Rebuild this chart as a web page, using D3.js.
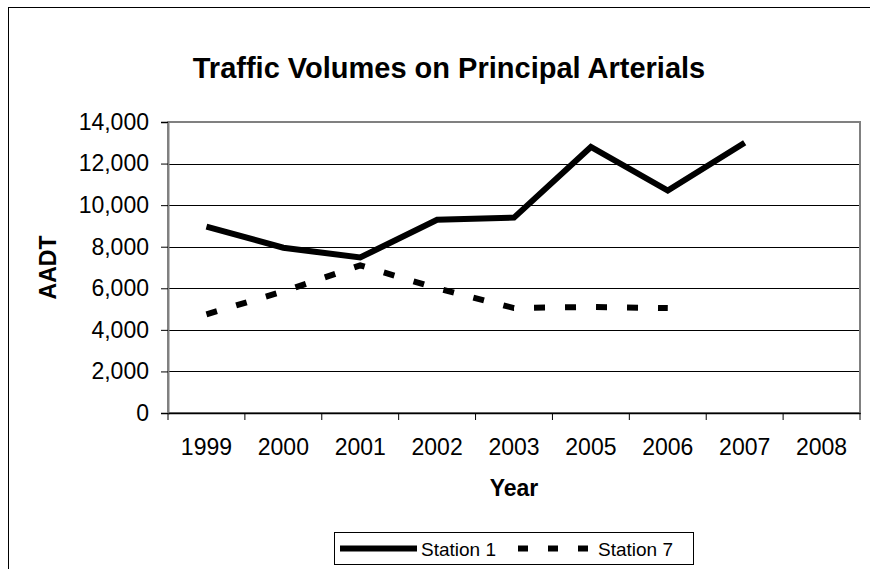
<!DOCTYPE html>
<html>
<head>
<meta charset="utf-8">
<script src="https://cdn.jsdelivr.net/npm/d3@7"></script>
<style>
  body { margin: 0; background: #fff; }
  text { font-family: "Liberation Sans", Arial, sans-serif; fill: #000; }
</style>
</head>
<body>
<div id="chart"></div>
<script>
// datos
const years = ["1999", "2000", "2001", "2002", "2003", "2005", "2006", "2007", "2008"];
const station1 = [8970, 7950, 7480, 9300, 9400, 12800, 10700, 13000, null];
const station7 = [4750, 5850, 7100, 6000, 5050, 5100, 5050, null, null];
const yTicks = [0, 2000, 4000, 6000, 8000, 10000, 12000, 14000];

const WIDTH = 870;
const HEIGHT = 569;
const MARGIN = { top: 122, bottom: 156, left: 168, right: 10 };
const WIDTHVIS = WIDTH - MARGIN.left - MARGIN.right;
const HEIGHTVIS = HEIGHT - MARGIN.top - MARGIN.bottom;

const svg = d3.select("#chart").append("svg")
  .attr("width", WIDTH).attr("height", HEIGHT);

// marco exterior (se sale por derecha y abajo)
svg.append("rect")
  .attr("x", 8.5).attr("y", 7.5)
  .attr("width", WIDTH).attr("height", HEIGHT)
  .attr("fill", "none").attr("stroke", "#000").attr("stroke-width", 1);

svg.append("text")
  .attr("x", 449).attr("y", 78)
  .attr("text-anchor", "middle")
  .style("font-size", "29px").style("font-weight", "bold")
  .text("Traffic Volumes on Principal Arterials");

const g = svg.append("g").attr("transform", `translate(${MARGIN.left},${MARGIN.top})`);

const x = d3.scaleBand().domain(years).range([0, WIDTHVIS]);
const y = d3.scaleLinear().domain([0, 14000]).range([HEIGHTVIS, 0]);

// grilla
g.append("g").selectAll("line")
  .data(yTicks.filter(d => d > 0 && d < 14000))
  .join("line")
  .attr("x1", 0).attr("x2", WIDTHVIS)
  .attr("y1", d => Math.round(y(d)) + 0.5).attr("y2", d => Math.round(y(d)) + 0.5)
  .attr("stroke", "#000").attr("stroke-width", 1);

// borde del area
g.append("rect")
  .attr("x", 0).attr("y", 0).attr("width", WIDTHVIS).attr("height", HEIGHTVIS)
  .attr("fill", "none").attr("stroke", "#808080").attr("stroke-width", 2);

// eje Y
const ejeY = d3.axisLeft(y).tickValues(yTicks).tickSize(7).tickPadding(12)
  .tickFormat(d3.format(","));
g.append("g").call(ejeY)
  .call(s => s.select(".domain").attr("stroke", "#808080").attr("stroke-width", 2))
  .call(s => s.selectAll(".tick text").style("font-size", "23px").attr("fill", "#000"));

// eje X
const ejeX = d3.axisBottom(x).tickSize(0).tickPadding(26);
g.append("g").attr("transform", `translate(0,${HEIGHTVIS})`).call(ejeX)
  .call(s => s.select(".domain").attr("stroke", "#000").attr("stroke-width", 1.5))
  .call(s => s.selectAll(".tick text").style("font-size", "23px").attr("fill", "#000"));

// ticks en los bordes de categorias
g.append("g").selectAll("line")
  .data(d3.range(years.length + 1))
  .join("line")
  .attr("x1", i => i * x.step()).attr("x2", i => i * x.step())
  .attr("y1", HEIGHTVIS).attr("y2", HEIGHTVIS + 7)
  .attr("stroke", "#000").attr("stroke-width", 1);

// titulos de ejes
svg.append("text")
  .attr("transform", `translate(48,${MARGIN.top + HEIGHTVIS / 2}) rotate(-90)`)
  .attr("text-anchor", "middle").attr("dy", "0.35em")
  .style("font-size", "23px").style("font-weight", "bold")
  .text("AADT");
svg.append("text")
  .attr("x", MARGIN.left + WIDTHVIS / 2).attr("y", 496)
  .attr("text-anchor", "middle")
  .style("font-size", "23px").style("font-weight", "bold")
  .text("Year");

// lineas
const linea = d3.line()
  .defined(d => d.v != null)
  .x(d => x(d.year) + x.bandwidth() / 2)
  .y(d => y(d.v));

g.append("path")
  .datum(years.map((yr, i) => ({ year: yr, v: station1[i] })))
  .attr("d", linea)
  .attr("fill", "none").attr("stroke", "#000").attr("stroke-width", 6)
  .attr("stroke-linejoin", "miter");

g.append("path")
  .datum(years.map((yr, i) => ({ year: yr, v: station7[i] })))
  .attr("d", linea)
  .attr("fill", "none").attr("stroke", "#000").attr("stroke-width", 6)
  .attr("stroke-dasharray", "11,20");

// leyenda
const leg = svg.append("g");
leg.append("rect")
  .attr("x", 334.5).attr("y", 532.5).attr("width", 359).attr("height", 32)
  .attr("fill", "#fff").attr("stroke", "#000");
leg.append("line")
  .attr("x1", 340).attr("x2", 417).attr("y1", 548.5).attr("y2", 548.5)
  .attr("stroke", "#000").attr("stroke-width", 6);
leg.append("text").attr("x", 421).attr("y", 555.5).style("font-size", "19px").text("Station 1");
leg.append("line")
  .attr("x1", 518).attr("x2", 590).attr("y1", 548.5).attr("y2", 548.5)
  .attr("stroke", "#000").attr("stroke-width", 6).attr("stroke-dasharray", "10,20");
leg.append("text").attr("x", 598).attr("y", 555.5).style("font-size", "19px").text("Station 7");
</script>
</body>
</html>
